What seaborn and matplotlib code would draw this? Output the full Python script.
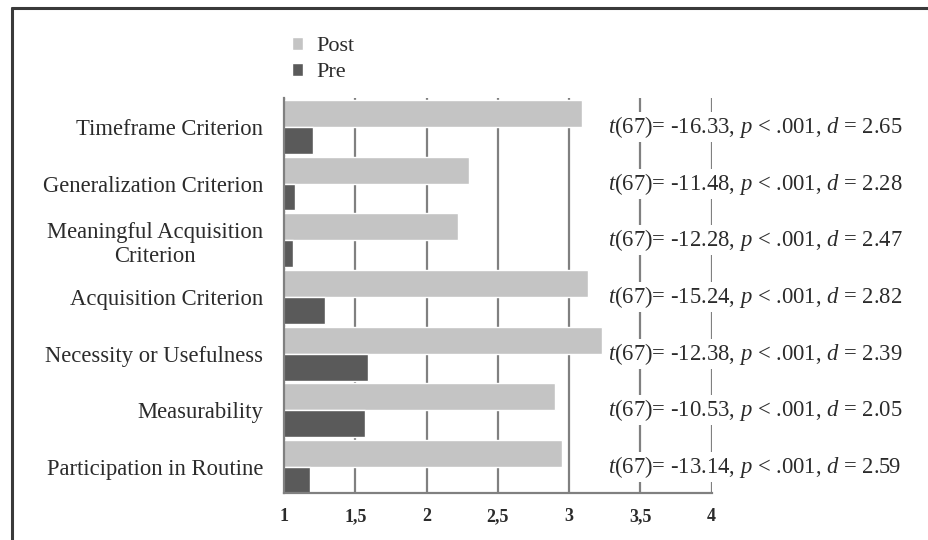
import matplotlib
matplotlib.use("Agg")
import matplotlib.pyplot as plt
import matplotlib.lines as mlines
import seaborn as sns
import pandas as pd

categories = [
    "Timeframe Criterion",
    "Generalization Criterion",
    "Meaningful Acquisition\nCriterion",
    "Acquisition Criterion",
    "Necessity or Usefulness",
    "Measurability",
    "Participation in Routine",
]
post_values = [3.09, 2.30, 2.22, 3.13, 3.23, 2.90, 2.95]
pre_values = [1.20, 1.08, 1.06, 1.29, 1.59, 1.57, 1.18]
t_values = ["-16.33", "-11.48", "-12.28", "-15.24", "-12.38", "-10.53", "-13.14"]
d_values = ["2.65", "2.28", "2.47", "2.82", "2.39", "2.05", "2.59"]
x_ticks = [1, 1.5, 2, 2.5, 3, 3.5, 4]
x_tick_labels = ["1", "1,5", "2", "2,5", "3", "3,5", "4"]

sns.set_style("white")
plt.rcParams["font.family"] = ["Liberation Serif", "DejaVu Serif"]
plt.rcParams["mathtext.fontset"] = "custom"
plt.rcParams["mathtext.rm"] = "Liberation Serif"
plt.rcParams["mathtext.it"] = "Liberation Serif:italic"

df = pd.DataFrame({
    "criterion": categories * 2,
    "value": post_values + pre_values,
    "time": ["Post"] * len(categories) + ["Pre"] * len(categories),
})

fig = plt.figure(figsize=(9.29, 5.4), dpi=100)
ax = fig.add_axes([284 / 929, 1 - 493 / 540, (711.7 - 284) / 929, (493 - 98) / 540])

text_color = "#2b2b2b"
grid_color = "#808080"

sns.barplot(data=df, y="criterion", x="value", hue="time", hue_order=["Post", "Pre"],
            palette={"Post": "#c4c4c4", "Pre": "#5a5a5a"}, order=categories,
            width=0.95, orient="h", saturation=1, ax=ax, errorbar=None)

ax.set_xlim(1, 4)
ax.set_ylim(6.46, -0.51)
ax.set_xticks(x_ticks)
ax.set_xticklabels(x_tick_labels, fontsize=13, color=text_color, fontweight="bold")
ax.set_xlabel("")
ax.set_ylabel("")
ax.tick_params(axis="x", length=0, pad=11)
ax.tick_params(axis="y", length=0, pad=15, labelsize=16.3, labelcolor=text_color)
for lab in ax.get_yticklabels():
    lab.set_multialignment("center")

ax.set_axisbelow(True)
ax.grid(axis="x", color=grid_color, linewidth=1.6)
ax.grid(axis="y", visible=False)
for side in ["top", "right"]:
    ax.spines[side].set_visible(False)
for side in ["left", "bottom"]:
    ax.spines[side].set_color(grid_color)
    ax.spines[side].set_linewidth(1.6)

for i, (t, d) in enumerate(zip(t_values, d_values)):
    ax.text(3.272, i, f"$t$(67)= {t}, $p$ < .001, $d$ = {d}", fontsize=16.3,
            color=text_color, va="center", ha="left", clip_on=False, zorder=5,
            bbox=dict(facecolor="white", edgecolor="none", pad=1.5))

handles, labels = ax.get_legend_handles_labels()
if ax.get_legend() is not None:
    ax.get_legend().remove()
fig.legend(handles, labels, loc="upper left", bbox_to_anchor=(272 / 929, 1 - 17 / 540),
           frameon=False, handlelength=0.5, handleheight=0.5, handletextpad=0.6,
           labelspacing=0.3, fontsize=16, labelcolor=text_color)

# outer frame (top and left edges)
fig.add_artist(mlines.Line2D([12 / 929, 1.0], [1 - 7.5 / 540, 1 - 7.5 / 540],
                             transform=fig.transFigure, color="#3a3a3a", linewidth=2.2))
fig.add_artist(mlines.Line2D([12 / 929, 12 / 929], [0.0, 1 - 7.5 / 540],
                             transform=fig.transFigure, color="#3a3a3a", linewidth=2.2))

fig.savefig("out.png", dpi=100)
